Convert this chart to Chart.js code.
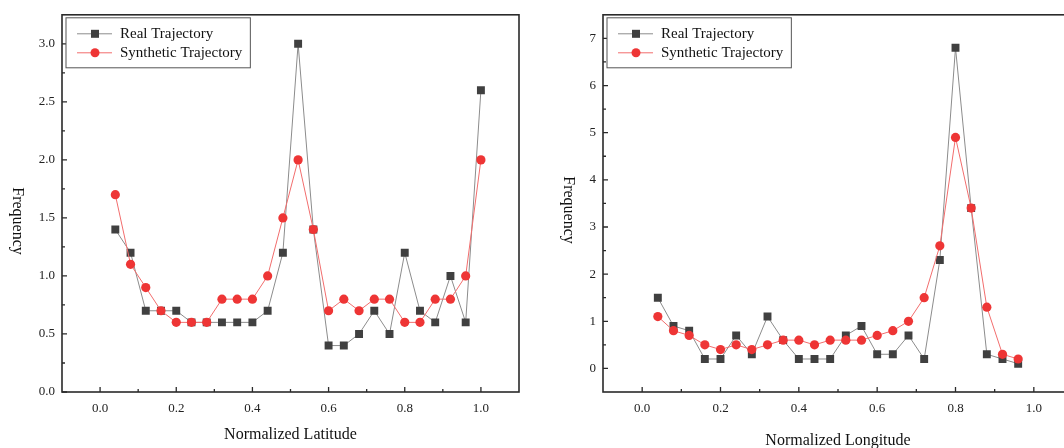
<!DOCTYPE html>
<html>
<head>
<meta charset="utf-8">
<script src="https://cdn.jsdelivr.net/npm/chart.js@4.4.0/dist/chart.umd.min.js"></script>
<style>
  body { margin: 0; background: #fff; overflow: hidden; width: 1064px; height: 448px; position: relative; }
  #latBox { position: absolute; left: 0; top: 0; }
  #lonBox { position: absolute; left: 540px; top: 0; }
</style>
</head>
<body>
<div id="latBox"><canvas id="ChartLat" width="540" height="448"></canvas></div>
<div id="lonBox"><canvas id="ChartLon" width="560" height="448"></canvas></div>
<script>
// data
let seriesNames = ['Real Trajectory', 'Synthetic Trajectory'];

let latX = [0.04, 0.08, 0.12, 0.16, 0.20, 0.24, 0.28, 0.32, 0.36, 0.40, 0.44, 0.48, 0.52,
            0.56, 0.60, 0.64, 0.68, 0.72, 0.76, 0.80, 0.84, 0.88, 0.92, 0.96, 1.00];
let latReal = [1.4, 1.2, 0.7, 0.7, 0.7, 0.6, 0.6, 0.6, 0.6, 0.6, 0.7, 1.2, 3.0,
               1.4, 0.4, 0.4, 0.5, 0.7, 0.5, 1.2, 0.7, 0.6, 1.0, 0.6, 2.6];
let latSynth = [1.7, 1.1, 0.9, 0.7, 0.6, 0.6, 0.6, 0.8, 0.8, 0.8, 1.0, 1.5, 2.0,
                1.4, 0.7, 0.8, 0.7, 0.8, 0.8, 0.6, 0.6, 0.8, 0.8, 1.0, 2.0];

let lonX = [0.04, 0.08, 0.12, 0.16, 0.20, 0.24, 0.28, 0.32, 0.36, 0.40, 0.44, 0.48,
            0.52, 0.56, 0.60, 0.64, 0.68, 0.72, 0.76, 0.80, 0.84, 0.88, 0.92, 0.96];
let lonReal = [1.5, 0.9, 0.8, 0.2, 0.2, 0.7, 0.3, 1.1, 0.6, 0.2, 0.2, 0.2,
               0.7, 0.9, 0.3, 0.3, 0.7, 0.2, 2.3, 6.8, 3.4, 0.3, 0.2, 0.1];
let lonSynth = [1.1, 0.8, 0.7, 0.5, 0.4, 0.5, 0.4, 0.5, 0.6, 0.6, 0.5, 0.6,
                0.6, 0.6, 0.7, 0.8, 1.0, 1.5, 2.6, 4.9, 3.4, 1.3, 0.3, 0.2];

let xTicks = [0, 0.2, 0.4, 0.6, 0.8, 1.0];
let latYTicks = [0, 0.5, 1.0, 1.5, 2.0, 2.5, 3.0];
let lonYTicks = [0, 1, 2, 3, 4, 5, 6, 7];

const FONT = '"Liberation Serif", "Times New Roman", serif';
const realLine = '#8c8c8c';
const realMark = '#404040';
const synthLine = '#f26d6d';
const synthMark = '#ee3535';

// frame, inward ticks, legend and axis titles
const decorPlugin = {
  id: 'decor',
  afterDraw(chart, args, opts) {
    let ctx = chart.ctx;
    let a = chart.chartArea;
    let xs = chart.scales.x;
    let ys = chart.scales.y;
    ctx.save();

    ctx.strokeStyle = '#2a2a2a';
    ctx.lineWidth = 1.6;
    ctx.strokeRect(a.left, a.top, a.right - a.left, a.bottom - a.top);

    ctx.lineWidth = 1.3;
    ctx.beginPath();
    xs.ticks.forEach((t, i) => {
      let px = xs.getPixelForValue(t.value);
      ctx.moveTo(px, a.bottom); ctx.lineTo(px, a.bottom - 5);
      if (i < xs.ticks.length - 1) {
        let m = xs.getPixelForValue((t.value + xs.ticks[i + 1].value) / 2);
        ctx.moveTo(m, a.bottom); ctx.lineTo(m, a.bottom - 3);
      }
    });
    ys.ticks.forEach((t, i) => {
      let py = ys.getPixelForValue(t.value);
      ctx.moveTo(a.left, py); ctx.lineTo(a.left + 5, py);
      if (i < ys.ticks.length - 1) {
        let m = ys.getPixelForValue((t.value + ys.ticks[i + 1].value) / 2);
        ctx.moveTo(a.left, m); ctx.lineTo(a.left + 3, m);
      }
    });
    ctx.stroke();

    // legend
    ctx.font = '15px ' + FONT;
    let bx = a.left + 4, by = a.top + 3;
    let textX = bx + 54;
    let maxW = 0;
    chart.data.datasets.forEach((d) => { maxW = Math.max(maxW, ctx.measureText(d.label).width); });
    let bw = 54 + maxW + 8, bh = 50;
    ctx.fillStyle = '#fff';
    ctx.fillRect(bx, by, bw, bh);
    ctx.strokeStyle = '#555';
    ctx.lineWidth = 1;
    ctx.strokeRect(bx, by, bw, bh);
    chart.data.datasets.forEach((d, i) => {
      let ry = by + 16 + i * 19;
      ctx.strokeStyle = d.borderColor;
      ctx.lineWidth = 1;
      ctx.beginPath();
      ctx.moveTo(bx + 11, ry); ctx.lineTo(bx + 46, ry);
      ctx.stroke();
      ctx.fillStyle = d.pointBackgroundColor;
      if (d.pointStyle == 'rect') {
        ctx.fillRect(bx + 29 - 4, ry - 4, 8, 8);
      } else {
        ctx.beginPath();
        ctx.arc(bx + 29, ry, 4.5, 0, Math.PI * 2);
        ctx.fill();
      }
      ctx.fillStyle = '#111';
      ctx.textBaseline = 'middle';
      ctx.textAlign = 'left';
      ctx.fillText(d.label, textX, ry);
    });

    // axis titles
    ctx.fillStyle = '#111';
    ctx.font = '16px ' + FONT;
    ctx.textAlign = 'center';
    ctx.textBaseline = 'middle';
    ctx.fillText(opts.xTitle, (a.left + a.right) / 2, opts.xTitleY);
    ctx.translate(opts.yTitleX, opts.yTitleY);
    ctx.rotate(Math.PI / 2);
    ctx.fillText(opts.yTitle, 0, 0);
    ctx.restore();
  }
};

const makeSets = (xs, real, synth) => {
  return [{
    label: seriesNames[0],
    data: xs.map((x, i) => ({ x: x, y: real[i] })),
    borderColor: realLine,
    borderWidth: 1,
    pointStyle: 'rect',
    pointRadius: 5.6,
    pointBackgroundColor: realMark,
    pointBorderColor: realMark,
    pointBorderWidth: 0,
    tension: 0,
    order: 1
  }, {
    label: seriesNames[1],
    data: xs.map((x, i) => ({ x: x, y: synth[i] })),
    borderColor: synthLine,
    borderWidth: 1,
    pointStyle: 'circle',
    pointRadius: 4.6,
    pointBackgroundColor: synthMark,
    pointBorderColor: synthMark,
    pointBorderWidth: 0,
    tension: 0,
    order: 0
  }];
};

const chartHandler = (canvasId, sets, yMin, yMax, yTicks, yFmt, padRight, yWidth, titles) => {
  let ctx = document.getElementById(canvasId).getContext('2d');
  return new Chart(ctx, {
    type: 'line',
    data: { datasets: sets },
    plugins: [decorPlugin],
    options: {
      responsive: false,
      animation: false,
      devicePixelRatio: 1,
      layout: { padding: { top: 10, right: padRight, left: 0, bottom: 0 } },
      plugins: {
        legend: { display: false },
        tooltip: { enabled: false },
        decor: titles
      },
      scales: {
        x: {
          type: 'linear',
          min: -0.1,
          max: 1.1,
          afterBuildTicks: (s) => { s.ticks = xTicks.map((v) => ({ value: v })); },
          afterFit: (s) => { s.height = 56; },
          grid: { display: false, drawTicks: false },
          border: { display: false },
          ticks: {
            padding: 9,
            autoSkip: false,
            maxRotation: 0,
            color: '#222',
            font: { family: FONT, size: 13 },
            callback: (v) => Number(v).toFixed(1)
          }
        },
        y: {
          type: 'linear',
          min: yMin,
          max: yMax,
          afterBuildTicks: (s) => { s.ticks = yTicks.map((v) => ({ value: v })); },
          afterFit: (s) => { s.width = yWidth; },
          grid: { display: false, drawTicks: false },
          border: { display: false },
          ticks: {
            padding: 7,
            color: '#222',
            font: { family: FONT, size: 13 },
            callback: yFmt
          }
        }
      }
    }
  });
};

chartHandler('ChartLat', makeSets(latX, latReal, latSynth), 0, 3.25, latYTicks,
  (v) => Number(v).toFixed(1), 21, 62,
  { xTitle: 'Normalized Latitude', xTitleY: 435, yTitle: 'Frequency', yTitleX: 17, yTitleY: 221 });

chartHandler('ChartLon', makeSets(lonX, lonReal, lonSynth), -0.5, 7.5, lonYTicks,
  (v) => String(v), 27, 63,
  { xTitle: 'Normalized Longitude', xTitleY: 441, yTitle: 'Frequency', yTitleX: 28, yTitleY: 210 });
</script>
</body>
</html>
